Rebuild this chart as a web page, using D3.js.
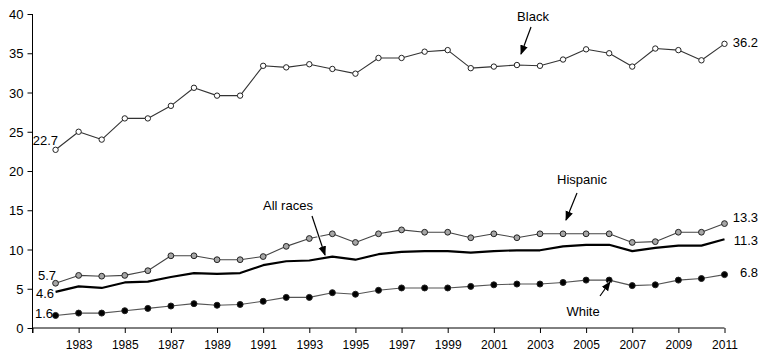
<!DOCTYPE html>
<html><head><meta charset="utf-8">
<script src="https://cdn.jsdelivr.net/npm/d3@7"></script>
<style>body{margin:0;background:#fff}svg{display:block}text{font-family:"Liberation Sans",Arial,sans-serif;fill:#000}</style>
</head><body><svg id="c" width="769" height="360"></svg>
<script>
const years = d3.range(1982, 2012);
const black =    [22.7,25.0,24.0,26.7,26.7,28.3,30.6,29.6,29.6,33.4,33.2,33.6,33.0,32.4,34.4,34.4,35.2,35.4,33.1,33.3,33.5,33.4,34.2,35.5,35.0,33.3,35.6,35.4,34.1,36.2];
const hispanic = [5.7,6.7,6.6,6.7,7.3,9.2,9.2,8.7,8.7,9.1,10.4,11.4,12.0,10.9,12.0,12.5,12.2,12.2,11.5,12.0,11.5,12.0,12.0,12.0,12.0,10.9,11.0,12.2,12.2,13.3];
const allRaces = [4.6,5.3,5.1,5.8,5.9,6.5,7.0,6.9,7.0,8.0,8.5,8.6,9.1,8.7,9.4,9.7,9.8,9.8,9.6,9.8,9.9,9.9,10.4,10.6,10.6,9.8,10.2,10.5,10.5,11.3];
const white =    [1.6,1.9,1.9,2.2,2.5,2.8,3.1,2.9,3.0,3.4,3.9,3.9,4.5,4.3,4.8,5.1,5.1,5.1,5.3,5.5,5.6,5.6,5.8,6.1,6.1,5.4,5.5,6.1,6.3,6.8];
const yTicks = [0,5,10,15,20,25,30,35,40];
const xTicks = d3.range(1981, 2012, 2);

const svg = d3.select("#c");
const x = d3.scaleLinear().domain([1981, 2011]).range([32.5, 724.5]);
const y = d3.scaleLinear().domain([0, 40]).range([328, 14]);

// axes
const ya = svg.append("g").attr("transform","translate(32.5,0)")
  .call(d3.axisLeft(y).tickValues(yTicks).tickSize(5).tickPadding(4).tickFormat(d3.format("d")));
ya.select(".domain").attr("d","M0,"+y(40)+"V"+(y(0)+5)).attr("stroke","#000");
ya.selectAll("text").style("font-size","13px").attr("dy","0.35em");

const xa = svg.append("g").attr("transform","translate(0,328)")
  .call(d3.axisBottom(x).tickValues(xTicks).tickSize(5).tickPadding(7).tickFormat(d => d === 1981 ? "" : d));
xa.select(".domain").attr("d","M"+x(1981)+",0H"+x(2011)).attr("stroke","#000");
xa.selectAll("text").style("font-size","12px");

const line = d3.line().x((d,i)=>x(years[i])).y(d=>y(d));

function series(vals, lineColor, lw, fill, r) {
  svg.append("path").datum(vals).attr("d", line).attr("fill","none")
    .attr("stroke", lineColor).attr("stroke-width", lw).attr("stroke-linejoin","round");
  if (fill) {
    svg.append("g").selectAll("circle").data(vals).join("circle")
      .attr("cx",(d,i)=>x(years[i])).attr("cy",d=>y(d)).attr("r",r)
      .attr("fill",fill).attr("stroke","#222").attr("stroke-width",1);
  }
}
series(black, "#333", 1.1, "#fff", 2.7);
series(allRaces, "#000", 2.2, null, 0);
series(hispanic, "#444", 1.1, "#a6a6a6", 2.9);
series(white, "#555", 1.1, "#000", 3);

// end / start labels
const lab = (t, xx, yy, anchor) => svg.append("text").attr("x",xx).attr("y",yy)
  .attr("text-anchor",anchor).style("font-size","13px").text(t);
lab(black[0].toFixed(1), 58, 145, "end");
lab(hispanic[0].toFixed(1), 56, 280, "end");
lab(allRaces[0].toFixed(1), 54, 298, "end");
lab(white[0].toFixed(1), 53, 318, "end");
lab(black[29].toFixed(1), 758, 47, "end");
lab(hispanic[29].toFixed(1), 758, 222, "end");
lab(allRaces[29].toFixed(1), 758, 245, "end");
lab(white[29].toFixed(1), 758, 277, "end");

// annotations
const defs = svg.append("defs");
defs.append("marker").attr("id","ah").attr("viewBox","0 0 10 10").attr("refX",9).attr("refY",5)
  .attr("markerWidth",8).attr("markerHeight",8).attr("orient","auto")
  .append("path").attr("d","M0,1 L10,5 L0,9 z").attr("fill","#000");
function ann(t, tx, ty, x1, y1, x2, y2) {
  svg.append("line").attr("x1",x1).attr("y1",y1).attr("x2",x2).attr("y2",y2)
    .attr("stroke","#fff").attr("stroke-width",3);
  svg.append("line").attr("x1",x1).attr("y1",y1).attr("x2",x2).attr("y2",y2)
    .attr("stroke","#000").attr("stroke-width",1.2).attr("marker-end","url(#ah)");
  lab(t, tx, ty, "middle");
}
ann("Black", 533, 21, 531, 27, 521, 54);
ann("Hispanic", 582, 184, 577, 193, 566, 220);
ann("All races", 288, 210, 312, 216, 325, 255);
ann("White", 583, 316, 600, 296, 610, 282);
</script></body></html>
